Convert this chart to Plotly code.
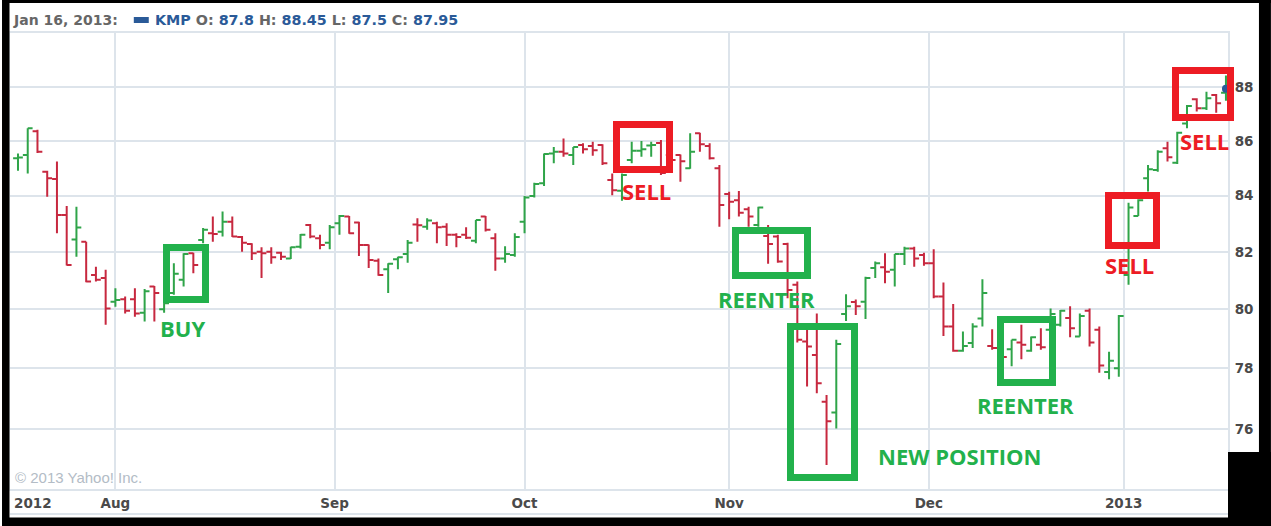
import math
import pandas as pd
import plotly.graph_objects as go

# ---- KMP daily bars, 18 Jul 2012 - 16 Jan 2013 ----
symbol = "KMP"
holidays = ["2012-09-03", "2012-10-29", "2012-10-30", "2012-11-22",
            "2012-12-25", "2013-01-01"]
dates = pd.bdate_range("2012-07-18", "2013-01-16", freq="C", holidays=holidays)

open_ = [85.36, 85.48, 86.36, 84.87, 84.61, 83.31, 82.44, 82.36, 81.19, 81.08,
         80.26, 80.35, 80.35, 79.88, 80.79, 80.00, 80.56, 81.02, 81.95, 82.42,
         82.66, 82.71, 83.07, 82.52, 82.28, 82.00, 82.00, 81.97, 81.77, 82.18,
         82.95, 82.48, 82.32, 83.01, 83.25, 83.04, 82.24, 81.69, 81.39, 81.74,
         81.92, 82.97, 82.89, 83.01, 82.89, 82.60, 82.60, 82.39, 83.25, 82.48,
         81.77, 81.89, 83.07, 83.99, 84.45, 85.54, 85.60, 85.48, 85.85, 85.81,
         85.85, 84.57, 84.18, 85.30, 85.64, 85.83, 85.92, 85.48, 85.48, 85.00,
         86.28, 85.81, 85.00, 84.06, 83.84, 83.51, 82.95, 82.56, 82.54, 82.28,
         80.85, 78.90, 78.45, 76.89, 76.53, 79.84, 80.25, 80.26, 81.43, 81.46,
         81.37, 81.92, 82.12, 81.89, 81.60, 80.44, 79.41, 78.59, 78.85, 79.69,
         78.75, 78.55, 78.64, 78.87, 78.59, 78.79, 79.30, 79.47, 79.70, 79.07,
         79.95, 79.30, 77.88, 78.00, 81.19, 83.27, 84.63, 84.93, 85.73, 85.20,
         86.65, 87.55, 87.22, 87.71, 87.80]
high = [85.54, 86.47, 86.41, 84.91, 85.24, 83.63, 83.60, 82.36, 81.48, 81.37,
        80.73, 80.44, 80.73, 80.70, 80.81, 80.23, 81.60, 81.95, 81.97, 82.84,
        83.25, 83.43, 83.25, 82.56, 82.30, 82.16, 82.16, 82.00, 82.18, 82.63,
        82.99, 82.60, 82.95, 83.31, 83.27, 83.07, 82.26, 81.77, 81.60, 81.83,
        82.42, 83.19, 83.19, 83.07, 83.01, 82.66, 82.87, 83.13, 83.27, 82.66,
        82.20, 82.66, 83.99, 84.47, 85.54, 85.78, 86.09, 85.78, 85.91, 85.97,
        85.88, 84.81, 84.81, 85.97, 86.00, 85.97, 86.03, 85.55, 85.50, 86.28,
        86.30, 85.91, 85.12, 84.14, 84.17, 83.60, 83.60, 82.95, 82.60, 82.32,
        80.96, 79.32, 79.86, 77.11, 78.96, 80.52, 80.34, 81.13, 81.66, 81.95,
        81.92, 82.18, 82.18, 81.97, 82.09, 80.93, 80.18, 79.24, 79.52, 81.04,
        79.32, 78.62, 78.96, 79.47, 79.07, 79.35, 80.03, 79.98, 80.11, 79.86,
        80.03, 79.41, 78.56, 79.81, 83.75, 83.87, 85.12, 85.66, 85.97, 86.34,
        87.34, 87.59, 87.84, 87.75, 88.45]
low = [84.91, 84.81, 85.56, 83.96, 82.66, 81.52, 81.83, 80.94, 80.96, 79.47,
       80.09, 79.86, 79.75, 79.58, 79.58, 79.88, 80.50, 80.79, 81.25, 82.30,
       82.36, 82.54, 82.52, 82.00, 81.71, 81.08, 81.58, 81.71, 81.75, 82.12,
       82.48, 82.09, 82.09, 82.60, 82.64, 81.85, 81.43, 81.16, 80.56, 81.39,
       81.62, 82.36, 82.78, 82.30, 82.21, 82.16, 82.45, 82.30, 82.72, 81.34,
       81.62, 81.83, 82.66, 83.94, 84.35, 85.18, 85.42, 85.12, 85.54, 85.45,
       85.12, 84.02, 83.82, 85.18, 85.42, 85.42, 84.75, 85.24, 84.51, 84.98,
       85.60, 85.32, 82.89, 83.16, 83.25, 82.89, 82.89, 81.58, 81.62, 80.38,
       78.87, 77.39, 77.17, 74.83, 76.01, 79.60, 79.81, 79.67, 81.08, 80.90,
       80.79, 81.54, 81.48, 81.51, 80.38, 79.09, 78.56, 78.56, 78.68, 79.41,
       78.62, 78.28, 78.07, 78.30, 78.56, 78.62, 78.96, 79.41, 79.05, 79.07,
       78.73, 77.85, 77.63, 77.72, 80.85, 83.27, 84.15, 84.87, 85.24, 85.15,
       86.47, 87.09, 87.15, 87.05, 87.50]
close = [85.39, 86.47, 85.60, 84.63, 83.31, 81.54, 82.86, 80.96, 81.02, 80.03,
         80.32, 79.95, 79.86, 80.62, 80.56, 80.21, 81.23, 81.92, 81.54, 82.78,
         82.63, 83.07, 82.54, 82.32, 81.95, 81.95, 81.81, 81.83, 82.16, 82.60,
         82.54, 82.24, 82.87, 83.27, 82.66, 82.24, 81.71, 81.19, 81.58, 81.81,
         82.32, 82.94, 83.11, 82.87, 82.60, 82.52, 82.50, 83.13, 82.78, 81.77,
         81.92, 82.52, 83.94, 84.42, 85.52, 85.60, 85.54, 85.78, 85.69, 85.66,
         85.18, 84.20, 84.75, 85.64, 85.69, 85.85, 84.82, 85.30, 85.25, 85.60,
         85.88, 85.36, 83.67, 83.78, 83.39, 83.25, 83.58, 82.28, 81.66, 80.67,
         78.96, 78.73, 77.50, 76.25, 78.82, 80.11, 80.11, 81.08, 81.60, 81.30,
         81.92, 82.12, 81.77, 81.60, 80.44, 79.41, 78.59, 78.75, 79.41, 80.56,
         78.68, 78.38, 78.96, 78.79, 79.05, 78.71, 79.84, 79.95, 79.35, 79.77,
         78.87, 78.09, 78.25, 79.77, 83.58, 83.84, 84.96, 85.60, 85.40, 86.30,
         87.30, 87.22, 87.59, 87.40, 87.95]

# axis labelling
month_starts = ["2012-08-01", "2012-09-01", "2012-10-01", "2012-11-01",
                "2012-12-01", "2013-01-01"]
month_labels = ["Aug", "Sep", "Oct", "Nov", "Dec", "2013"]
first_year_label = "2012"
price_ticks = [76, 78, 80, 82, 84, 86, 88]
price_range = [74.06, 90.08]
bar_range = [-0.82, 124.21]

# trade markup: (first bar, last bar, low, high, colour key)
boxes = [
    (15.22, 19.22, 80.34, 82.15, "g"),
    (61.43, 66.87, 84.95, 86.61, "r"),
    (73.63, 81.01, 81.18, 82.76, "g"),
    (79.27, 85.83, 74.42, 79.42, "g"),
    (100.89, 106.22, 77.53, 79.65, "g"),
    (111.96, 116.88, 82.22, 83.99, "r"),
    (118.80, 124.42, 86.87, 88.64, "r"),
]
# (text, bar position, price, colour key)
notes = [
    ("BUY", 16.86, 79.36, "g"),
    ("SELL", 64.56, 84.17, "r"),
    ("REENTER", 76.86, 80.36, "g"),
    ("NEW POSITION", 96.64, 75.12, "g"),
    ("REENTER", 103.4, 76.78, "g"),
    ("SELL", 114.13, 81.54, "r"),
    ("SELL", 121.75, 86.01, "r"),
]

# ---- styling ----
W, H = 1271, 526
ML, MR, MT, MB = 8, 43, 33, 37
PW, PH = W - ML - MR, H - MT - MB
UP, DOWN = "#2fa449", "#c7283f"
MARK = {"g": "#22b14c", "r": "#ed1c24"}
GRID = "#dde4eb"
TICKFONT = dict(family="DejaVu Sans", size=13.5, color="#4a4a4a", weight="bold")
BLUE, GREY = "#2a5a98", "#666666"


def fx(p):
    return (p - ML) / PW


def fy(p):
    return (H - MB - p) / PH


x = list(range(len(dates)))
date_pos = {d: i for i, d in enumerate(dates)}
tick_pos = []
for m in pd.to_datetime(month_starts):
    nxt = int(dates.searchsorted(m))
    tick_pos.append(nxt if m in date_pos else nxt - 0.5)

fig = go.Figure()
fig.add_trace(go.Ohlc(
    x=x, open=open_, high=high, low=low, close=close,
    increasing=dict(line=dict(color=UP, width=2)),
    decreasing=dict(line=dict(color=DOWN, width=2)),
    tickwidth=0.5, hoverinfo="skip", showlegend=False,
))
fig.add_trace(go.Scatter(
    x=[x[-1]], y=[close[-1]], mode="markers",
    marker=dict(size=8, color=BLUE), hoverinfo="skip", showlegend=False,
))

lg0, lg1 = math.log10(price_range[0]), math.log10(price_range[1])
px_bar = PW / (bar_range[1] - bar_range[0])
px_dec = PH / (lg1 - lg0)
BW = 7

ann = []
for i0, i1, lo, hi, c in boxes:
    ann.append(dict(
        x=(i0 + i1) / 2, y=(math.log10(lo) + math.log10(hi)) / 2,
        xref="x", yref="y", text=" ", showarrow=False,
        width=(i1 - i0) * px_bar - BW,
        height=(math.log10(hi) - math.log10(lo)) * px_dec - BW,
        bordercolor=MARK[c], borderwidth=BW, borderpad=0,
        xanchor="center", yanchor="middle",
    ))
for txt, xi, p, c in notes:
    ann.append(dict(
        x=xi, y=math.log10(p), xref="x", yref="y", text=txt, showarrow=False,
        font=dict(family="Open Sans", size=22, color=MARK[c], weight="bold"),
        xanchor="center", yanchor="middle",
    ))

last = dates[-1]
ann.append(dict(
    x=fx(9), y=fy(20), xref="paper", yref="paper", showarrow=False,
    text=f"{last:%b} {last.day}, {last:%Y}:", xanchor="left", yanchor="middle",
    font=dict(family="DejaVu Sans", size=14, color=GREY, weight="bold"),
))


def blue(v):
    return f'<span style="color:{BLUE}">{v}</span>'


ann.append(dict(
    x=fx(151), y=fy(20), xref="paper", yref="paper", showarrow=False,
    text=(f"{blue(symbol)} O: {blue(f'{open_[-1]:g}')} H: {blue(f'{high[-1]:g}')} "
          f"L: {blue(f'{low[-1]:g}')} C: {blue(f'{close[-1]:g}')}"),
    xanchor="left", yanchor="middle",
    font=dict(family="DejaVu Sans", size=14.3, color=GREY, weight="bold"),
))
ann.append(dict(
    x=fx(10), y=fy(503), xref="paper", yref="paper", showarrow=False,
    text=first_year_label, xanchor="left", yanchor="middle", font=TICKFONT,
))
ann.append(dict(
    x=fx(11), y=fy(477), xref="paper", yref="paper", showarrow=False,
    text="© 2013 Yahoo! Inc.", xanchor="left", yanchor="middle",
    font=dict(family="Liberation Sans", size=15, color="#b3bcc6"),
))

shapes = [
    # legend swatch
    dict(type="rect", xref="paper", yref="paper", x0=fx(132), x1=fx(147),
         y0=fy(23), y1=fy(17), fillcolor=BLUE, line=dict(width=0)),
    # rule under the date labels
    dict(type="line", xref="paper", yref="paper", x0=0, x1=1,
         y0=fy(514), y1=fy(514), line=dict(color=GRID, width=2)),
]
# black frame
for x0, x1, y0, y1 in [(0, 7.5, 0, H), (1259, W, 0, H), (0, W, 0, 3),
                       (0, W, 517.5, H), (1228, W, 452, H)]:
    shapes.append(dict(type="rect", xref="paper", yref="paper",
                       x0=fx(x0), x1=fx(x1), y0=fy(y1), y1=fy(y0),
                       fillcolor="black", line=dict(width=0), layer="above"))

fig.update_layout(
    width=W, height=H, margin=dict(l=ML, r=MR, t=MT, b=MB),
    paper_bgcolor="white", plot_bgcolor="white",
    annotations=ann, shapes=shapes, showlegend=False,
    xaxis=dict(
        range=bar_range, tickmode="array", tickvals=tick_pos,
        ticktext=month_labels, showgrid=True, gridcolor=GRID, gridwidth=2,
        zeroline=False, showline=True, linecolor=GRID, linewidth=2, mirror=True,
        ticks="outside", ticklen=1, tickcolor="rgba(0,0,0,0)",
        tickfont=TICKFONT, rangeslider=dict(visible=False), fixedrange=True,
    ),
    yaxis=dict(
        type="log", range=[lg0, lg1], side="right", tickmode="array",
        tickvals=price_ticks, ticktext=[str(v) for v in price_ticks],
        showgrid=True, gridcolor=GRID, gridwidth=2, zeroline=False,
        showline=True, linecolor=GRID, linewidth=2, mirror=True,
        ticks="outside", ticklen=2, tickcolor="rgba(0,0,0,0)",
        tickfont=TICKFONT, fixedrange=True,
    ),
)

fig.write_html("out.html")
